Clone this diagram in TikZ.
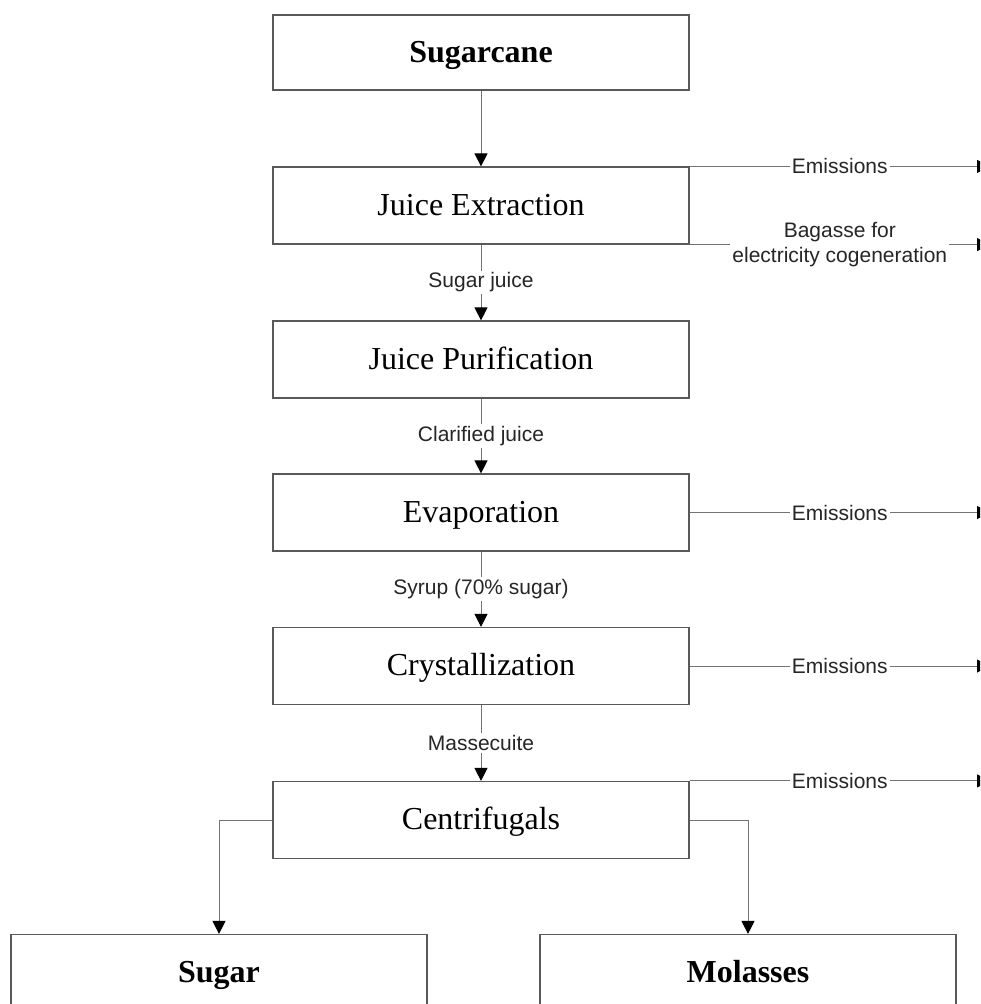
\documentclass[tikz,border=0pt]{standalone}
\usepackage{fontspec}
\setmainfont{Liberation Serif}
\newfontfamily\labelfont{Liberation Sans}
\usetikzlibrary{arrows.meta}
\begin{document}
\begin{tikzpicture}[x=1pt,y=-1pt,
  stage/.style={draw=black!65, line width=1.2pt, minimum width=416pt,
    minimum height=77pt, inner sep=0pt, text height=21pt, text depth=2pt,
    font=\fontsize{32}{36}\selectfont},
  product/.style={stage, font=\fontsize{32}{36}\selectfont\bfseries},
  flow/.style={draw=black!55, line width=1pt,
    -{Triangle[length=13pt,width=13pt,black]}},
  tag/.style={font=\labelfont\fontsize{21}{25}\selectfont, fill=white,
    inner sep=2pt, text=black!85, align=center},
]
\useasboundingbox (0,0) rectangle (980,1004);
\clip (0,0) rectangle (980,1004);

% process stages
\node[product, minimum height=75pt] (cane) at (481,52.5) {Sugarcane};
\node[stage] (extr) at (481,205.5) {Juice Extraction};
\node[stage] (puri) at (481,359.5) {Juice Purification};
\node[stage] (evap) at (481,512.5) {Evaporation};
\node[stage] (crys) at (481,666) {Crystallization};
\node[stage] (cent) at (481,820) {Centrifugals};
\node[product] (sugar) at (219,973) {Sugar};
\node[product] (mola) at (748,973) {Molasses};

% main flow
\draw[flow] (cane) -- (extr);
\draw[flow] (extr) -- node[tag] {Sugar juice} (puri);
\draw[flow] (puri) -- node[tag] {Clarified juice} (evap);
\draw[flow] (evap) -- node[tag] {Syrup (70\% sugar)} (crys);
\draw[flow] (crys) -- node[tag] {Massecuite} (cent);
\draw[flow] (cent.west) -| (sugar.north);
\draw[flow] (cent.east) -| (mola.north);

% side outputs, running off the right edge
\coordinate (rim) at (990,0);
\draw[flow] (extr.north east) -- node[tag] {Emissions} (extr.north east -| rim);
\draw[flow] (extr.south east) -- node[tag] {Bagasse for\\electricity cogeneration} (extr.south east -| rim);
\draw[flow] (evap.east) -- node[tag] {Emissions} (evap.east -| rim);
\draw[flow] (crys.east) -- node[tag] {Emissions} (crys.east -| rim);
\draw[flow] (cent.north east) -- node[tag] {Emissions} (cent.north east -| rim);
\end{tikzpicture}
\end{document}
